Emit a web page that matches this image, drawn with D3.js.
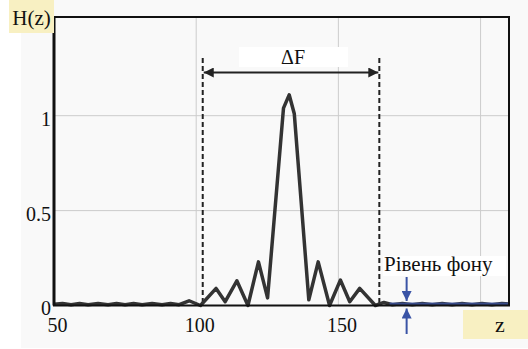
<!DOCTYPE html>
<html>
<head>
<meta charset="utf-8">
<script src="https://cdn.jsdelivr.net/npm/d3@7"></script>
<style>
body { margin: 0; background: #fff; }
</style>
</head>
<body>
<svg id="chart" width="528" height="349"></svg>
<script>
// curve H(z), vertices
var zVals = [50, 53, 56, 59, 62, 65.5, 69, 72, 75, 78, 81, 84.5, 88, 91, 94, 97.5, 101.5,
             107, 110.2, 114.3, 118.2, 121.9, 125.1, 130.7, 132.7, 134.5, 139.6, 142.9,
             146.9, 150.7, 154, 157.5, 163, 166, 169, 172.5, 176, 179.5, 183, 186.5, 190,
             193.5, 197, 200.5, 204, 207.5, 210];
var hVals = [0.006, 0.01, 0.004, 0.01, 0.004, 0.01, 0.004, 0.01, 0.004, 0.01, 0.004, 0.01,
             0.004, 0.01, 0.004, 0.025, 0.0,
             0.09, 0.02, 0.13, 0.0, 0.23, 0.04, 1.04, 1.11, 1.01, 0.03, 0.23,
             0.0, 0.134, 0.02, 0.09, 0.0, 0.016, 0.004, 0.01, 0.004, 0.01, 0.004, 0.01, 0.004,
             0.01, 0.004, 0.01, 0.004, 0.01, 0.008];
var xTicks = [50, 100, 150];
var yTicks = [0, 0.5, 1];
var xGrid = [100, 150, 200];
var yGrid = [0.5, 1];
var bandEdges = [102.3, 164.4];   // ΔF
var noiseRange = [168, 210];       // Рівень фону
var noiseLevel = 0.008;
var noiseArrowZ = 174;

var serif = "'Liberation Serif', Tinos, 'Times New Roman', Times, 'DejaVu Serif', 'Noto Serif', serif";

var svg = d3.select("#chart");
var pLeft = 54, pRight = 509, pTop = 17, pBottom = 305.5;

var x = d3.scaleLinear().domain([50, 210]).range([pLeft, pRight]);
var y = d3.scaleLinear().domain([0, 1.52]).range([pBottom, pTop]);

// panel background
svg.append("rect").attr("x", 21).attr("y", 0).attr("width", 507).attr("height", 348)
   .style("fill", "#f9f9f9");

// grid
svg.selectAll(".vg").data(xGrid).enter().append("line")
   .attr("x1", d => x(d)).attr("x2", d => x(d)).attr("y1", pTop).attr("y2", pBottom)
   .style("stroke", "#cccccc").style("stroke-width", 1);
svg.selectAll(".hg").data(yGrid).enter().append("line")
   .attr("x1", pLeft).attr("x2", pRight).attr("y1", d => y(d)).attr("y2", d => y(d))
   .style("stroke", "#cccccc").style("stroke-width", 1);

// axes (labels only)
var xAxis = svg.append("g").attr("transform", "translate(3," + pBottom + ")")
   .call(d3.axisBottom(x).tickValues(xTicks).tickSize(0).tickPadding(12).tickFormat(d3.format("d")));
xAxis.select(".domain").remove();
xAxis.selectAll("text").style("font-size", "20px").style("fill", "#111").style("font-family", serif);

var yAxis = svg.append("g").attr("transform", "translate(" + (pLeft - 2) + ",3)")
   .call(d3.axisLeft(y).tickValues(yTicks).tickSize(0).tickPadding(1).tickFormat(d => d));
yAxis.select(".domain").remove();
yAxis.selectAll("text").style("font-size", "20px").style("fill", "#111").style("font-family", serif);

// dashed band edges
svg.selectAll(".edge").data(bandEdges).enter().append("line")
   .attr("x1", d => x(d)).attr("x2", d => x(d)).attr("y1", 58).attr("y2", pBottom)
   .style("stroke", "#222").style("stroke-width", 2).style("stroke-dasharray", "5,3");

// arrow markers
var defs = svg.append("defs");
function marker(id, color) {
  defs.append("marker").attr("id", id).attr("viewBox", "0 0 10 10")
     .attr("refX", 10).attr("refY", 5).attr("markerWidth", 12).attr("markerHeight", 10)
     .attr("markerUnits", "userSpaceOnUse").attr("orient", "auto-start-reverse")
     .append("path").attr("d", "M0,0L10,5L0,10Z").style("fill", color);
}
marker("ah", "#222");
marker("ab", "#3a54a6");

svg.append("line").attr("x1", x(bandEdges[0]) + 1).attr("x2", x(bandEdges[1]) - 1)
   .attr("y1", 72.5).attr("y2", 72.5)
   .style("stroke", "#222").style("stroke-width", 2)
   .attr("marker-start", "url(#ah)").attr("marker-end", "url(#ah)");

svg.append("rect").attr("x", 239).attr("y", 47).attr("width", 109).attr("height", 20)
   .style("fill", "#fff");
svg.append("text").attr("x", x(d3.mean(bandEdges)) + 2).attr("y", 64).attr("text-anchor", "middle")
   .style("font-size", "20px").style("fill", "#111").style("font-family", serif).text("ΔF");

// curve
var pts = zVals.map((z, i) => [z, hVals[i]]);
svg.append("path").datum(pts)
   .attr("d", d3.line().x(d => x(d[0])).y(d => y(d[1])))
   .style("fill", "none").style("stroke", "#333").style("stroke-width", 3.5)
   .style("stroke-linejoin", "round");

// background level line
svg.append("line").attr("x1", x(noiseRange[0])).attr("x2", x(noiseRange[1]) - 1)
   .attr("y1", y(noiseLevel)).attr("y2", y(noiseLevel))
   .style("stroke", "#3a54a6").style("stroke-width", 3).style("opacity", 0.75);

// frame
svg.append("rect").attr("x", pLeft).attr("y", pTop).attr("width", pRight - pLeft).attr("height", pBottom - pTop)
   .style("fill", "none").style("stroke", "#111").style("stroke-width", 2);
svg.append("line").attr("x1", pLeft).attr("x2", pLeft).attr("y1", pTop).attr("y2", pBottom)
   .style("stroke", "#111").style("stroke-width", 3);

// noise label + arrows
svg.append("rect").attr("x", 383).attr("y", 256).attr("width", 123).attr("height", 20)
   .style("fill", "#fff");
svg.append("text").attr("x", 384).attr("y", 271).style("font-size", "21px").style("fill", "#111")
   .style("font-family", serif).text("Рівень фону");

var ax = x(noiseArrowZ);
svg.append("line").attr("x1", ax).attr("x2", ax).attr("y1", 277).attr("y2", 301)
   .style("stroke", "#3a54a6").style("stroke-width", 2).attr("marker-end", "url(#ab)");
svg.append("line").attr("x1", ax).attr("x2", ax).attr("y1", 334).attr("y2", 308.5)
   .style("stroke", "#3a54a6").style("stroke-width", 2).attr("marker-end", "url(#ab)");

// axis title boxes
svg.append("rect").attr("x", 9).attr("y", 0).attr("width", 45).attr("height", 33)
   .style("fill", "#f8f0c2");
svg.append("text").attr("x", 31.5).attr("y", 25).attr("text-anchor", "middle")
   .style("font-size", "21px").style("fill", "#111").style("font-family", serif).text("H(z)");

svg.append("rect").attr("x", 463).attr("y", 310).attr("width", 65).attr("height", 29)
   .style("fill", "#f8f0c2");
svg.append("text").attr("x", 500).attr("y", 332).attr("text-anchor", "middle")
   .style("font-size", "22px").style("fill", "#111").style("font-family", serif).text("z");
</script>
</body>
</html>
